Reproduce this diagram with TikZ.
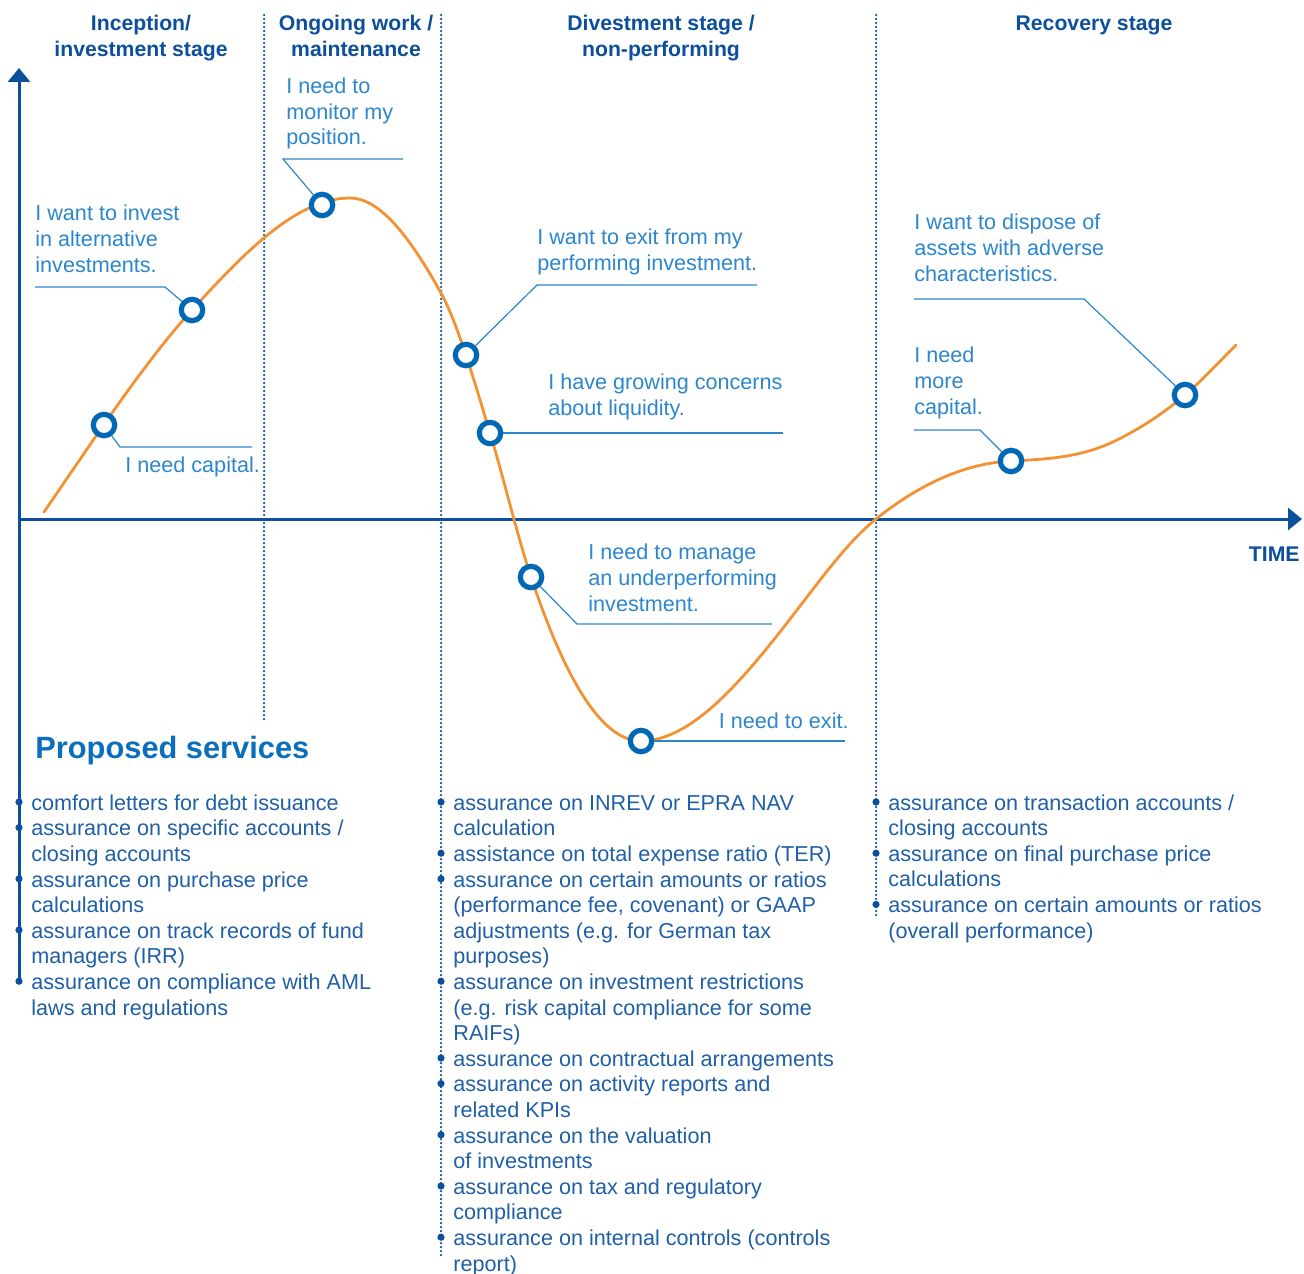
\documentclass[tikz,border=0pt]{standalone}
\usepackage{fontspec}
\setmainfont{Liberation Sans}
\usepackage{xcolor}
\usetikzlibrary{arrows.meta}
\definecolor{axisblue}{HTML}{0C4F9C}
\definecolor{ringblue}{HTML}{0068B4}
\definecolor{thoughtblue}{HTML}{2B86CD}
\definecolor{listblue}{HTML}{1F5FA8}
\definecolor{psblue}{HTML}{0A6EBD}
\definecolor{curveorange}{HTML}{F39234}

\tikzset{
  ring/.style={draw=ringblue, fill=white, circle, line width=2.6pt, minimum size=10.7pt, inner sep=0pt},
  thought/.style={text=thoughtblue, align=left, inner sep=0pt, font=\fontsize{10.8}{12.8}\selectfont},
  leader/.style={draw=thoughtblue, line width=0.6pt},
  stagehead/.style={text=axisblue, align=center, inner sep=0pt, font=\fontsize{10.6}{13}\selectfont\bfseries},
  servlist/.style={text=listblue, align=left, inner sep=0pt, font=\fontsize{10.8}{12.8}\selectfont},
  stagesep/.style={axisblue, line width=1.25pt, dash pattern=on 0pt off 2pt, line cap=round},
  axis/.style={axisblue, line width=1.5pt, -{Triangle[length=7pt, width=11pt]}},
}

\begin{document}
\begin{tikzpicture}[x=0.5pt, y=-0.5pt]
  \useasboundingbox (0,0) rectangle (1304,1273);

  % stage separators
  \draw[stagesep] (264,15) -- (264,720);
  \draw[stagesep] (441,15) -- (441,1255);
  \draw[stagesep] (876,15) -- (876,915);

  % axes
  \draw[axis] (19,982) -- (19,68);
  \draw[axis] (19,519) -- (1302,519);
  \draw (1300,561) node[anchor=base east, inner sep=0pt, text=axisblue, font=\fontsize{10.6}{13}\selectfont\bfseries] (time) {TIME};

  % stage headings (anchored at the baseline of the last line)
  \draw (141,57) node[stagehead, anchor=base] (hInception) {Inception/\\investment stage};
  \draw (356,57) node[stagehead, anchor=base] (hOngoing) {Ongoing work /\\maintenance};
  \draw (661,57) node[stagehead, anchor=base] (hDivest) {Divestment stage /\\non-performing};
  \draw (1094,31) node[stagehead, anchor=base] (hRecovery) {Recovery stage};

  % life cycle curve
  \draw[curveorange, line width=1.4pt, line cap=round]
    (44,512) .. controls (93.3,440.5) and (142.7,364.3) .. (192,310)
    .. controls (244.7,252) and (297.3,198) .. (350,198)
    .. controls (380.3,198) and (410.7,238.4) .. (441,293)
    .. controls (457.3,322.4) and (473.7,379.1) .. (490,433)
    .. controls (503.7,478.1) and (517.3,536) .. (531,577)
    .. controls (567.7,687) and (604.3,741) .. (641,741)
    .. controls (693,741) and (745,677.6) .. (797,610)
    .. controls (823.3,575.8) and (849.7,540) .. (876,519)
    .. controls (921,483) and (966,463.3) .. (1011,461)
    .. controls (1046.3,459.2) and (1081.7,457.7) .. (1117,440)
    .. controls (1139.7,428.7) and (1162.3,414.3) .. (1185,395)
    .. controls (1202,380.5) and (1219,362) .. (1236,345);

  % points on the curve
  \draw (104,425) node[ring] (rCapital) {};
  \draw (192,310) node[ring] (rInvest) {};
  \draw (322,205) node[ring] (rMonitor) {};
  \draw (466,355) node[ring] (rExitPerf) {};
  \draw (490,433) node[ring] (rLiquid) {};
  \draw (531,577) node[ring] (rManage) {};
  \draw (641,741) node[ring] (rExit) {};
  \draw (1011,461) node[ring] (rMore) {};
  \draw (1185,395) node[ring] (rDispose) {};

  % statements (anchored at the baseline of the last line)
  \draw (35,272) node[thought, anchor=base west] (tInvest) {I want to invest\\in alternative\\investments.};
  \draw (125,472) node[thought, anchor=base west] (tCapital) {I need capital.};
  \draw (286,145) node[thought, anchor=base west] (tMonitor) {I need to\\monitor my\\position.};
  \draw (537,270) node[thought, anchor=base west] (tExitPerf) {I want to exit from my\\performing investment.};
  \draw (548,415) node[thought, anchor=base west] (tLiquid) {I have growing concerns\\about liquidity.};
  \draw (588,611) node[thought, anchor=base west] (tManage) {I need to manage\\an underperforming\\investment.};
  \draw (849,728) node[thought, anchor=base east] (tExit) {I need to exit.};
  \draw (914,414) node[thought, anchor=base west] (tMore) {I need\\more\\capital.};
  \draw (914,281) node[thought, anchor=base west] (tDispose) {I want to dispose of\\assets with adverse\\characteristics.};

  % leader lines
  \coordinate (kInvestA) at (35,287);
  \coordinate (kInvestB) at (165,287);
  \draw[leader] (kInvestA) -- (kInvestB) -- (rInvest);
  \coordinate (kCapitalA) at (120,447);
  \coordinate (kCapitalB) at (252,447);
  \draw[leader] (rCapital) -- (kCapitalA) -- (kCapitalB);
  \coordinate (kMonitorA) at (403,159);
  \coordinate (kMonitorB) at (283,159);
  \draw[leader] (kMonitorA) -- (kMonitorB) -- (rMonitor);
  \coordinate (kExitPerfA) at (537,285);
  \coordinate (kExitPerfB) at (757,285);
  \draw[leader] (rExitPerf) -- (kExitPerfA) -- (kExitPerfB);
  \coordinate (kLiquid) at (783,433);
  \draw[leader] (rLiquid) -- (kLiquid);
  \coordinate (kManageA) at (577,624);
  \coordinate (kManageB) at (772,624);
  \draw[leader] (rManage) -- (kManageA) -- (kManageB);
  \coordinate (kExit) at (845,741);
  \draw[leader] (rExit) -- (kExit);
  \coordinate (kMoreA) at (914,430);
  \coordinate (kMoreB) at (980,430);
  \draw[leader] (kMoreA) -- (kMoreB) -- (rMore);
  \coordinate (kDisposeA) at (914,299);
  \coordinate (kDisposeB) at (1084,299);
  \draw[leader] (kDisposeA) -- (kDisposeB) -- (rDispose);

  % proposed services
  \draw (35,758) node[anchor=base west, inner sep=0pt, text=psblue, font=\fontsize{15.4}{18}\selectfont\bfseries] (psTitle) {Proposed services};

  \draw (31,1015) node[servlist, anchor=base west] (sInception) {comfort letters for debt issuance\\
    assurance on specific accounts /\\closing accounts\\
    assurance on purchase price\\calculations\\
    assurance on track records of fund\\managers (IRR)\\
    assurance on compliance with AML\\laws and regulations};
  \draw (453,1271) node[servlist, anchor=base west] (sDivest) {assurance on INREV or EPRA NAV\\calculation\\
    assistance on total expense ratio (TER)\\
    assurance on certain amounts or ratios\\(performance fee, covenant) or GAAP\\adjustments (e.g. for German tax\\purposes)\\
    assurance on investment restrictions\\(e.g. risk capital compliance for some\\RAIFs)\\
    assurance on contractual arrangements\\
    assurance on activity reports and\\related KPIs\\
    assurance on the valuation\\of investments\\
    assurance on tax and regulatory\\compliance\\
    assurance on internal controls (controls\\report)};
  \draw (888,938) node[servlist, anchor=base west] (sRecovery) {assurance on transaction accounts /\\closing accounts\\
    assurance on final purchase price\\calculations\\
    assurance on certain amounts or ratios\\(overall performance)};

  % bullets
  \foreach \n in {1,2,4,6,8}
    \fill[axisblue] (19,{802+25.6*(\n-1)}) circle[radius=1.8pt];
  \foreach \n in {1,3,4,8,11,12,14,16,18}
    \fill[axisblue] (441,{802+25.6*(\n-1)}) circle[radius=1.8pt];
  \foreach \n in {1,3,5}
    \fill[axisblue] (876,{802+25.6*(\n-1)}) circle[radius=1.8pt];
\end{tikzpicture}
\end{document}
